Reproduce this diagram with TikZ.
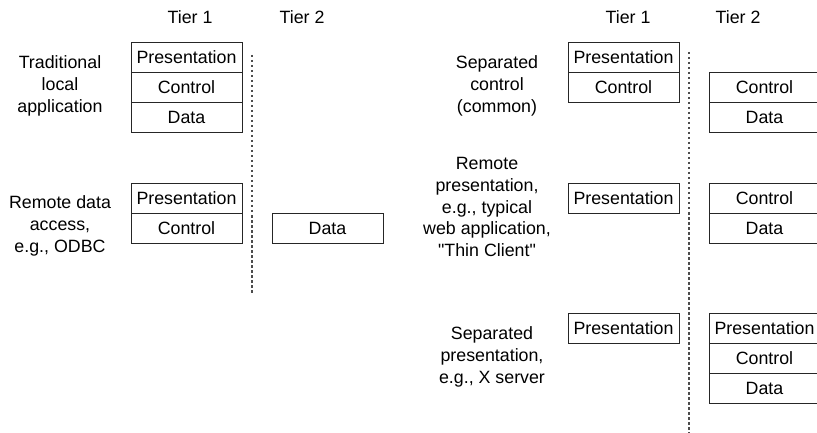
\documentclass[tikz,border=0pt]{standalone}
\usepackage{fontspec}
\setmainfont{Liberation Sans}
\usetikzlibrary{positioning}
\tikzset{
	layer/.style={draw=black!85, line width=0.8pt, minimum width=111pt, minimum height=30pt, inner sep=0pt, outer sep=0pt, font=\fontsize{17.8}{21}\selectfont},
	case/.style={align=center, inner sep=0pt, font=\fontsize{17.8}{21.8}\selectfont},
	tier/.style={inner sep=0pt, font=\fontsize{17.8}{21}\selectfont},
	split/.style={draw=black!70, line width=1.1pt, dash pattern=on 2.5pt off 2.5pt}
}
\begin{document}
\begin{tikzpicture}[x=1pt, y=-1pt]
	\useasboundingbox (0,0) rectangle (817,433);

		\node[tier] (T1a) at (190,17) {Tier 1};
		\node[tier] (T2a) at (302,17) {Tier 2};
		\node[tier] (T1b) at (628,17) {Tier 1};
		\node[tier] (T2b) at (738,17) {Tier 2};

		\coordinate (sepAtop) at (252,55);
		\coordinate (sepAbot) at (252,294);
		\coordinate (sepBtop) at (689,52);
		\coordinate (sepBbot) at (689,433);
		\draw[split] (sepAtop) -- (sepAbot);
		\draw[split] (sepBtop) -- (sepBbot);

		\node[case] (trad) at (60,86) {Traditional\\local\\application};
		\node[layer, anchor=north west] (tradP) at (131,42) {Presentation};
		\node[layer, below=0pt of tradP] (tradC) {Control};
		\node[layer, below=0pt of tradC] (tradD) {Data};

		\node[case] (rdata) at (60,226) {Remote data\\access,\\e.g., ODBC};
		\node[layer, anchor=north west] (rdataP) at (131,183) {Presentation};
		\node[layer, below=0pt of rdataP] (rdataC) {Control};
		\node[layer, anchor=north west] (rdataD) at (272,213) {Data};

		\node[case] (sepctl) at (497,86) {Separated\\control\\(common)};
		\node[layer, anchor=north west] (sepctlP) at (568,42) {Presentation};
		\node[layer, below=0pt of sepctlP] (sepctlC) {Control};
		\node[layer, anchor=north west] (sepctlC2) at (709,72) {Control};
		\node[layer, below=0pt of sepctlC2] (sepctlD2) {Data};

		\node[case] (rpres) at (487,207) {Remote\\presentation,\\e.g., typical\\web application,\\\textquotedbl Thin Client\textquotedbl};
		\node[layer, anchor=north west] (rpresP) at (568,183) {Presentation};
		\node[layer, anchor=north west] (rpresC2) at (709,183) {Control};
		\node[layer, below=0pt of rpresC2] (rpresD2) {Data};

		\node[case] (seppres) at (492,357) {Separated\\presentation,\\e.g., X server};
		\node[layer, anchor=north west] (seppresP) at (568,313) {Presentation};
		\node[layer, anchor=north west] (seppresP2) at (709,313) {Presentation};
		\node[layer, below=0pt of seppresP2] (seppresC2) {Control};
		\node[layer, below=0pt of seppresC2] (seppresD2) {Data};
	\end{tikzpicture}
\end{document}
